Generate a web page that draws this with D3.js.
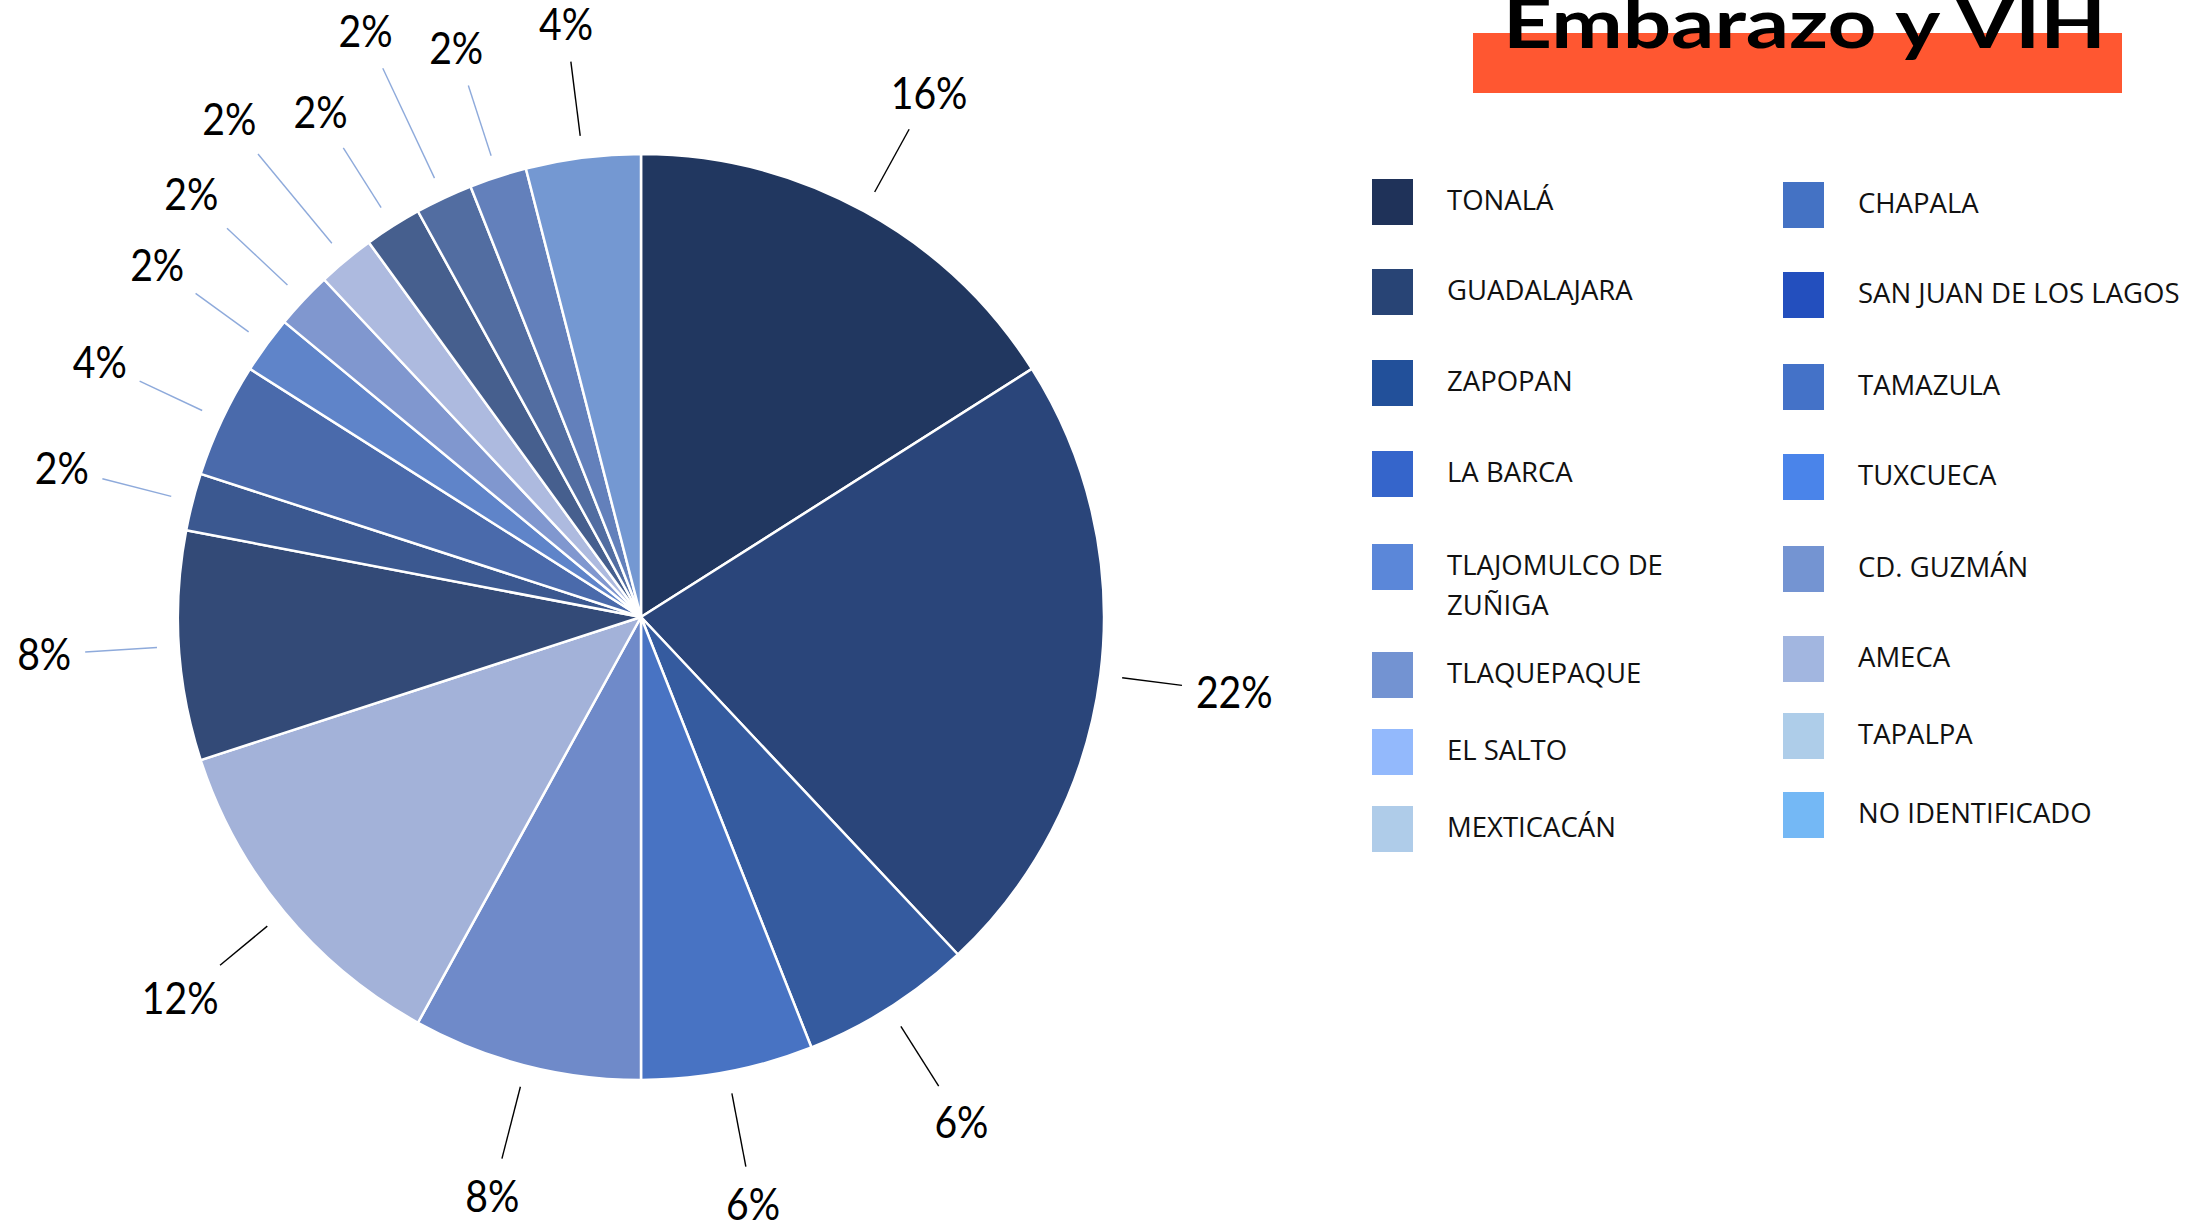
<!DOCTYPE html>
<html>
<head>
<meta charset="utf-8">
<script src="https://cdn.jsdelivr.net/npm/d3@7"></script>
<style>
  body { margin: 0; background: #fff; }
</style>
</head>
<body>
<script>
// Cases per municipality, slices clockwise from 12 o'clock
const sliceCounts = [8, 11, 3, 3, 4, 6, 4, 1, 2, 1, 1, 1, 1, 1, 1, 2];
const sliceColors = ["#213760", "#2a457a", "#355b9f", "#4873c3", "#6f8ac9", "#a3b2d9",
                     "#334a77", "#3b5890", "#4a6aab", "#5f84c9", "#8097cf", "#adbadf",
                     "#465f8e", "#526da1", "#6380bb", "#7498d2"];

// Legend (two columns)
const legendLeft = ["TONALÁ", "GUADALAJARA", "ZAPOPAN", "LA BARCA", "TLAJOMULCO DE|ZUÑIGA",
                    "TLAQUEPAQUE", "EL SALTO", "MEXTICACÁN"];
const legendLeftColors = ["#1f3259", "#284475", "#22509a", "#3565cb", "#5b87d9",
                          "#7393d2", "#93b9fc", "#afcce9"];
const legendRight = ["CHAPALA", "SAN JUAN DE LOS LAGOS", "TAMAZULA", "TUXCUECA", "CD. GUZMÁN",
                     "AMECA", "TAPALPA", "NO IDENTIFICADO"];
const legendRightColors = ["#4472c4", "#234fbe", "#4472c8", "#4a84ea", "#7494d2",
                           "#a2b6e0", "#aecde9", "#74b8f5"];

const titleText = "Embarazo y VIH";

// layout
const width = 2199, height = 1223;
const cx = 641, cy = 617, radius = 463;

const svg = d3.select("body").append("svg")
    .attr("width", width)
    .attr("height", height)
    .style("background", "#fff");

// Title with orange bar behind it
svg.append("rect")
    .attr("x", 1473).attr("y", 33)
    .attr("width", 649).attr("height", 60)
    .attr("fill", "#ff5731");

svg.append("text")
    .attr("x", 1503).attr("y", 48)
    .attr("textLength", 603)
    .attr("lengthAdjust", "spacingAndGlyphs")
    .style("font-family", "Lato, 'Noto Sans', sans-serif")
    .style("font-weight", 700)
    .style("font-size", "69px")
    .style("fill", "#000")
    .text(titleText);

// Pie
const total = d3.sum(sliceCounts);
const pct = d3.format(".0%");

const pie = d3.pie().sort(null).value(d => d);
const arcs = pie(sliceCounts);

const arc = d3.arc().innerRadius(0).outerRadius(radius);

const g = svg.append("g")
    .attr("transform", `translate(${cx},${cy})`);

g.selectAll("path.slice")
    .data(arcs)
    .enter()
    .append("path")
    .attr("class", "slice")
    .attr("d", arc)
    .attr("fill", (d, i) => sliceColors[i])
    .attr("stroke", "#fff")
    .attr("stroke-width", 2.5)
    .attr("stroke-linejoin", "round");

// Data labels, pushed out a bit where the small slices crowd
const labelPush = { 10: 19, 11: 48, 13: 49 };
const blueLeaders = d3.range(6, 15);
const squeeze = 0.89; // narrow the label font a little (Calibri look)

const labels = g.selectAll("g.label")
    .data(arcs)
    .enter()
    .append("g")
    .attr("class", "label");

labels.each(function(d, i) {
    const a = (d.startAngle + d.endAngle) / 2;
    const dx = Math.sin(a), dy = -Math.cos(a);
    const R = 598 + (labelPush[i] || 0);

    const t = d3.select(this).append("text")
        .attr("transform", `translate(${dx * R},${dy * R}) scale(${squeeze},1)`)
        .attr("dy", "0.36em")
        .attr("text-anchor", "middle")
        .style("font-family", "Lato, 'Open Sans', sans-serif")
        .style("font-size", "44px")
        .style("fill", "#000")
        .text(pct(d.data / total));

    const hw = t.node().getComputedTextLength() * squeeze / 2;
    const hh = 24;
    const tt = Math.min(hw / Math.max(Math.abs(dx), 1e-6), hh / Math.max(Math.abs(dy), 1e-6));
    const r0 = radius + 22, r1 = R - tt - 14;

    d3.select(this).insert("line", "text")
        .attr("x1", dx * r0).attr("y1", dy * r0)
        .attr("x2", dx * r1).attr("y2", dy * r1)
        .attr("stroke", blueLeaders.includes(i) ? "#8eaadb" : "#000")
        .attr("stroke-width", 1.4);
});

// Legend
const legendCols = [
    { names: legendLeft, colors: legendLeftColors, sx: 1372, tx: 1447,
      rows: [202, 292, 383, 474, 567, 675, 752, 829] },
    { names: legendRight, colors: legendRightColors, sx: 1783, tx: 1858,
      rows: [205, 295, 387, 477, 569, 659, 736, 815] }
];

legendCols.forEach(col => {
    const lg = svg.append("g");
    const items = lg.selectAll("g")
        .data(col.names)
        .enter()
        .append("g");

    items.append("rect")
        .attr("x", col.sx)
        .attr("y", (d, i) => col.rows[i] - 23)
        .attr("width", 41)
        .attr("height", 46)
        .attr("fill", (d, i) => col.colors[i]);

    items.append("text")
        .attr("x", col.tx)
        .attr("y", (d, i) => col.rows[i] + 8)
        .style("font-family", "'Open Sans', 'Noto Sans', sans-serif")
        .style("font-size", "27.5px")
        .style("fill", "#111")
        .each(function(d) {
            const parts = d.split("|");
            d3.select(this).selectAll("tspan")
                .data(parts)
                .enter()
                .append("tspan")
                .attr("x", col.tx)
                .attr("dy", (p, j) => j === 0 ? 0 : 40)
                .text(p => p);
        });
});
</script>
</body>
</html>
